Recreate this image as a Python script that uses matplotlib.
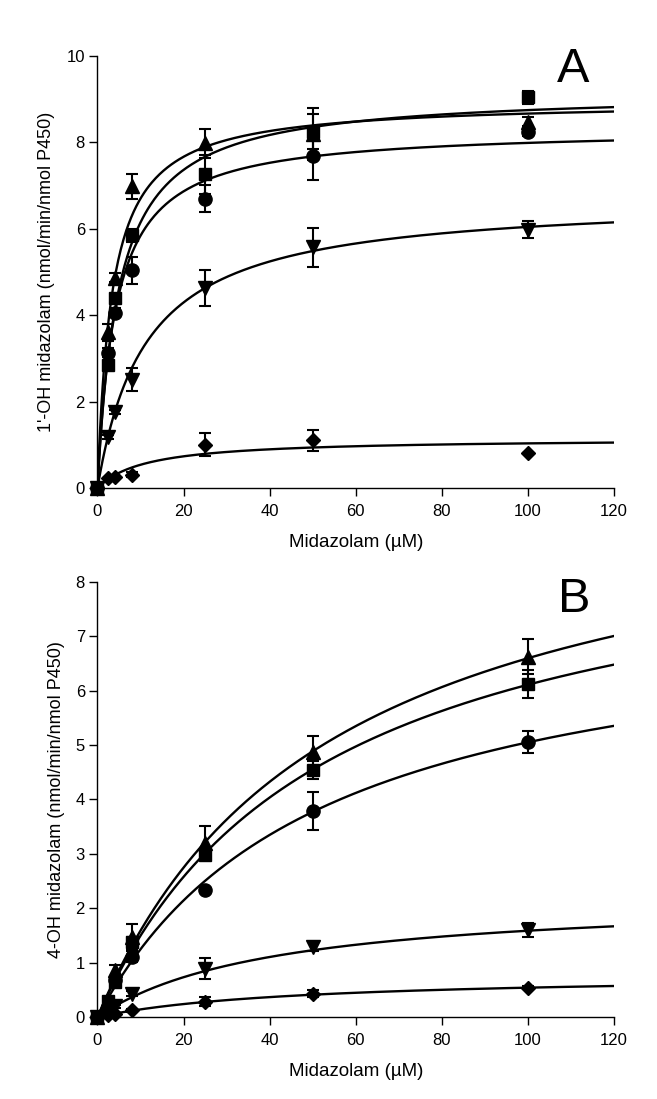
import numpy as np
import matplotlib
matplotlib.use("Agg")
import matplotlib.pyplot as plt

plt.rcParams['font.family'] = ['Liberation Sans', 'DejaVu Sans']

# midazolam concentrations (uM)
conc = [0, 2.5, 4, 8, 25, 50, 100]
markers = ['^', 's', 'o', 'v', 'D']
msizes = [10, 8, 9.5, 10, 7]

# panel A: 1'-OH midazolam
a_vals = [
    [0, 3.6, 4.87, 6.98, 7.98, 8.2, 8.48],     # triangle
    [0, 2.85, 4.4, 5.85, 7.26, 8.25, 9.05],    # square
    [0, 3.13, 4.06, 5.04, 6.7, 7.69, 8.25],    # circle
    [0, 1.18, 1.76, 2.51, 4.63, 5.57, 5.98],   # down triangle
    [0, 0.22, 0.26, 0.31, 1.0, 1.1, 0.8],      # diamond
]
a_err = [
    [0, 0.2, 0.1, 0.29, 0.34, 0.6, 0.1],
    [0, 0.1, 0.1, 0.15, 0.45, 0.4, 0.15],
    [0, 0.1, 0.1, 0.31, 0.32, 0.56, 0.1],
    [0, 0.05, 0.05, 0.27, 0.42, 0.45, 0.2],
    [0, 0.02, 0.02, 0.05, 0.27, 0.25, 0.0],
]
# fitted Michaelis-Menten curves (Vmax, Km)
a_vmax = [8.96, 9.18, 8.33, 6.73, 1.15]
a_km = [3.37, 4.93, 4.26, 11.34, 11.4]

# panel B: 4-OH midazolam
b_vals = [
    [0, 0.31, 0.86, 1.48, 3.2, 4.88, 6.62],
    [0, 0.3, 0.65, 1.38, 2.98, 4.54, 6.12],
    [0, 0.18, 0.68, 1.11, 2.34, 3.78, 5.06],
    [0, 0.1, 0.2, 0.43, 0.89, 1.29, 1.6],
    [0, 0.04, 0.06, 0.12, 0.28, 0.43, 0.54],
]
b_err = [
    [0, 0.05, 0.1, 0.23, 0.32, 0.29, 0.32],
    [0, 0.05, 0.1, 0.1, 0.1, 0.17, 0.25],
    [0, 0.05, 0.05, 0.1, 0.0, 0.35, 0.2],
    [0, 0.02, 0.03, 0.05, 0.2, 0.08, 0.12],
    [0, 0.01, 0.02, 0.03, 0.08, 0.06, 0.03],
]
b_vmax = [10.15, 9.29, 7.64, 2.24, 0.79]
b_km = [53.9, 52.1, 51.3, 41.2, 46.3]

fig = plt.figure(figsize=(6.57, 10.99), dpi=100)
axA = fig.add_axes([0.1484, 0.556, 0.786, 0.393])
axB = fig.add_axes([0.1484, 0.0746, 0.786, 0.396])

xs = np.linspace(0, 120, 400)

def draw_panel(ax, vals, errs, vmax, km, ymax, ystep, ylabel, letter, lpos):
    for i in range(len(vals)):
        ax.plot(xs, vmax[i] * xs / (km[i] + xs), color='black', lw=1.7, zorder=2)
        ax.errorbar(conc, vals[i], yerr=errs[i], fmt=markers[i], color='black',
                    ms=msizes[i], elinewidth=1.5, capsize=4.5, capthick=1.5,
                    zorder=3, clip_on=False)
    ax.set_xlim(0, 120)
    ax.set_ylim(0, ymax)
    ax.set_xticks(range(0, 121, 20))
    ax.set_yticks(np.arange(0, ymax + 0.01, ystep))
    ax.set_yticklabels([str(int(v)) for v in np.arange(0, ymax + 0.01, ystep)])
    ax.spines['top'].set_visible(False)
    ax.spines['right'].set_visible(False)
    ax.spines['left'].set_linewidth(1.0)
    ax.spines['bottom'].set_linewidth(1.0)
    ax.tick_params(direction='out', length=5.5, width=1.0, labelsize=12)
    ax.tick_params(axis='x', pad=6)
    ax.tick_params(axis='y', pad=3.5)
    ax.set_xlabel('Midazolam (µM)', fontsize=13.5, labelpad=11)
    ax.set_ylabel(ylabel, fontsize=13, labelpad=8)
    ax.text(lpos[0], lpos[1], letter, fontsize=35, ha='center', va='center')

draw_panel(axA, a_vals, a_err, a_vmax, a_km, 10, 2,
           "1'-OH midazolam (nmol/min/nmol P450)", 'A', (110.5, 9.7))
draw_panel(axB, b_vals, b_err, b_vmax, b_km, 8, 1,
           "4-OH midazolam (nmol/min/nmol P450)", 'B', (110.7, 7.67))

fig.savefig('out.png', dpi=100)
